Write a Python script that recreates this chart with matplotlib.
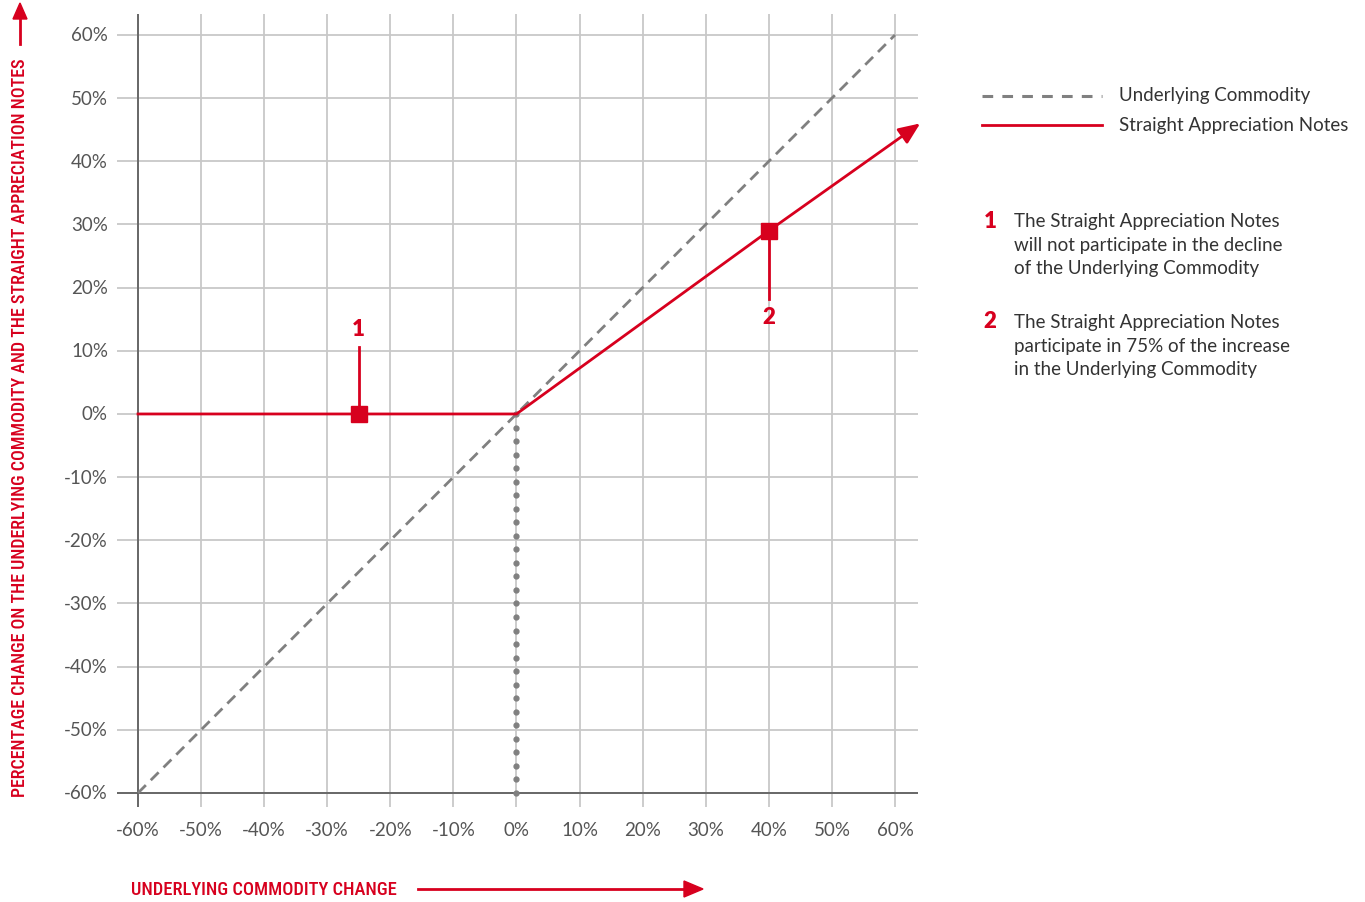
import numpy as np
import matplotlib.pyplot as plt

# data
ticks = [-60, -50, -40, -30, -20, -10, 0, 10, 20, 30, 40, 50, 60]
x_labels = ['-60%', '-50%', '-40%', '-30%', '-20%', '-10%', '0%', '10%', '20%', '30%', '40%', '50%', '60%']
y_labels = ['-60%', '-50%', '-40%', '-30%', '-20%', '-10%', '0%', '10%', '20%', '30%', '40%', '50%', '60%']
under_x = [-60, 60]
under_y = [-60, 60]
notes_x = [-60, 0, 40, 64]
notes_y = [0, 0, 29, 46]
markers_x = [-25, 40]
markers_y = [0, 29]
marker_names = ['1', '2']
floor_x = [0, 0]
floor_y = [0, -60]

RED = '#d7001e'
GREY = '#808080'
TXT = '#555555'
plt.rcParams['font.family'] = ['Lato', 'DejaVu Sans']

fig = plt.figure(figsize=(13.65, 9.03), dpi=100)
W, H = 1365, 903
ax = fig.add_axes([117 / W, (H - 808) / H, 801 / W, 793 / H])
ax.set_xlim(-63.33, 63.65)
ax.set_ylim(-62.22, 63.32)
for s in ax.spines.values():
    s.set_visible(False)
ax.tick_params(length=0, labelbottom=False, labelleft=False)

for t in ticks:
    ax.axvline(t, color='#c8c8c8', lw=1.3, zorder=1)
    ax.axhline(t, color='#c8c8c8', lw=1.3, zorder=1)
ax.axvline(-60, color='#606060', lw=1.3, zorder=2)
ax.axhline(-60, color='#606060', lw=1.3, zorder=2)

for t, lab in zip(ticks, y_labels):
    ax.annotate(lab, (0, t), xycoords=('axes fraction', 'data'), xytext=(-9, 0),
                textcoords='offset pixels', ha='right', va='center',
                fontsize=13.5, color=TXT)
for t, lab in zip(ticks, x_labels):
    ax.annotate(lab, (t, 0), xycoords=('data', 'axes fraction'), xytext=(0, -23),
                textcoords='offset pixels', ha='center', va='center',
                fontsize=13.5, color=TXT)

ax.plot(under_x, under_y, color=GREY, lw=2, dashes=(4, 2.5), zorder=3)
ax.plot(np.zeros(29), np.linspace(floor_y[0], floor_y[1], 29), color=GREY,
        lw=0, marker='o', ms=3.5, zorder=3)
ax.plot(notes_x[:-1], notes_y[:-1], color=RED, lw=2, zorder=4)
ax.annotate('', xy=(notes_x[-1], notes_y[-1]), xytext=(notes_x[-2], notes_y[-2]),
            annotation_clip=False,
            arrowprops=dict(arrowstyle='-|>,head_length=1.3,head_width=0.55',
                            color=RED, lw=2, shrinkA=0, shrinkB=0), zorder=4)
ax.plot(markers_x, markers_y, ls='none', marker='s', ms=11, color=RED, zorder=5)

# callouts
ax.plot([markers_x[0]] * 2, [markers_y[0], 10.6], color=RED, lw=2, zorder=4)
ax.text(markers_x[0], 13.5, marker_names[0], color=RED, fontsize=16,
        fontweight='heavy', ha='center', va='center')
ax.plot([markers_x[1]] * 2, [markers_y[1], 18.2], color=RED, lw=2, zorder=4)
ax.text(markers_x[1], 15.4, marker_names[1], color=RED, fontsize=16,
        fontweight='heavy', ha='center', va='center')

# axis titles
cond = dict(family=['Roboto Condensed', 'DejaVu Sans'], fontstretch='condensed',
            fontweight='medium', color=RED)
ytitle = fig.text(20 / W, 1 - 428 / H,
                  'PERCENTAGE CHANGE ON THE UNDERLYING COMMODITY AND THE STRAIGHT APPRECIATION NOTES',
                  rotation=90, fontsize=14.5, ha='center', va='center', **cond)
xtitle = fig.text(131 / W, 1 - 890 / H, 'UNDERLYING COMMODITY CHANGE',
                  fontsize=14.5, ha='left', va='center', **cond)
# shrink the titles to the span they take in the picture
r = fig.canvas.get_renderer()
for t, span, vert in [(ytitle, 740, True), (xtitle, 266, False)]:
    bb = t.get_window_extent(r)
    size = bb.height if vert else bb.width
    t.set_fontsize(t.get_fontsize() * min(1.0, span / size))

fig.add_artist(plt.Line2D([20 / W, 20 / W], [1 - 45 / H, 1 - 20 / H], color=RED, lw=2))
fig.patches.append(plt.Polygon([[13 / W, 1 - 20 / H], [27 / W, 1 - 20 / H], [20 / W, 1 - 4 / H]],
                               closed=True, color=RED, transform=fig.transFigure))
fig.add_artist(plt.Line2D([418 / W, 686 / W], [1 - 890 / H] * 2, color=RED, lw=2))
fig.patches.append(plt.Polygon([[684 / W, 1 - 882 / H], [684 / W, 1 - 898 / H], [703 / W, 1 - 890 / H]],
                               closed=True, color=RED, transform=fig.transFigure))

# legend
fig.add_artist(plt.Line2D([982 / W, 1102 / W], [1 - 97 / H] * 2, color=GREY, lw=2.2,
                          dashes=(3.5, 3)))
fig.add_artist(plt.Line2D([982 / W, 1102 / W], [1 - 126 / H] * 2, color=RED, lw=2))
lt = dict(fontsize=13.5, color='#333333', ha='left', va='center')
fig.text(1119 / W, 1 - 95 / H, 'Underlying Commodity', **lt)
fig.text(1119 / W, 1 - 125 / H, 'Straight Appreciation Notes', **lt)

notes = ['The Straight Appreciation Notes\nwill not participate in the decline\nof the Underlying Commodity',
         'The Straight Appreciation Notes\nparticipate in 75% of the increase\nin the Underlying Commodity']
for name, txt, y0 in zip(marker_names, notes, [221, 322]):
    fig.text(990 / W, 1 - y0 / H, name, color=RED, fontsize=16, fontweight='heavy',
             ha='center', va='center')
    fig.text(1014 / W, 1 - (y0 - 8) / H, txt, fontsize=13.5, color='#333333', ha='left',
             va='top', linespacing=1.47)

fig.savefig('out.png', dpi=100)
